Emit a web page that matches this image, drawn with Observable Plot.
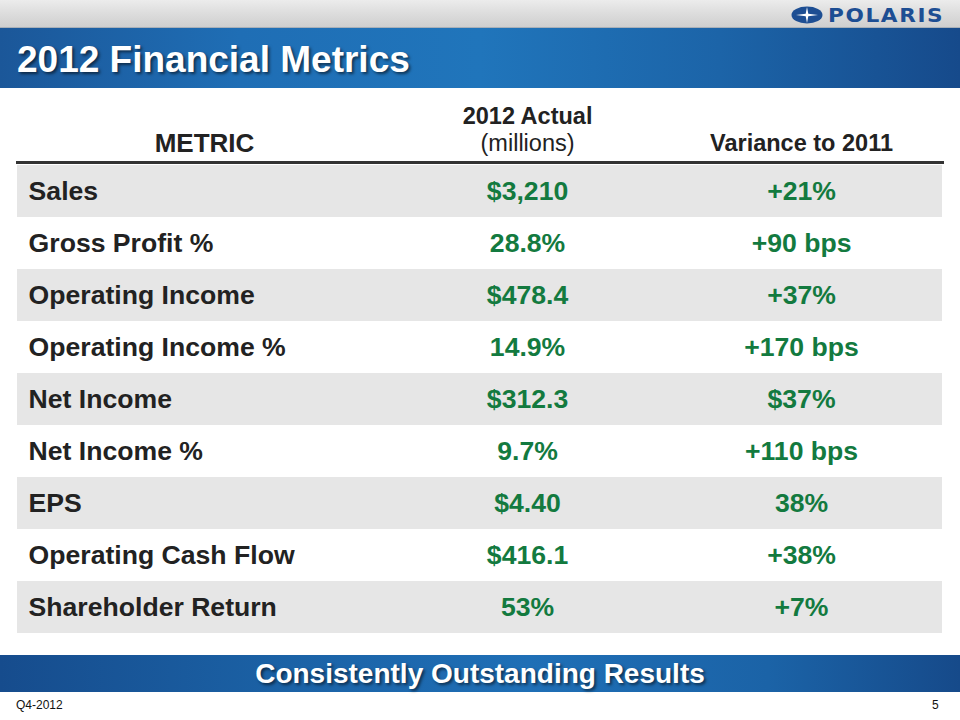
<!DOCTYPE html>
<html>
<head>
<meta charset="utf-8">
<script src="https://cdn.jsdelivr.net/npm/d3@7"></script>
<script src="https://cdn.jsdelivr.net/npm/@observablehq/plot@0.6"></script>
<style>
  html, body { margin: 0; padding: 0; background: #fff; }
  #slide { position: relative; width: 960px; height: 720px; overflow: hidden; background: #fff;
           font-family: "Liberation Sans", Arial, sans-serif; }
  #silver { position: absolute; left: 0; top: 0; width: 960px; height: 28px;
            background: linear-gradient(to bottom, #ececec 0%, #dedede 45%, #cfcfcf 100%);
            border-bottom: 1px solid #a9b0b8; box-sizing: border-box; }
  #titlebar { position: absolute; left: 0; top: 28px; width: 960px; height: 60px;
              background: linear-gradient(to right, #1b5799 0%, #1f6eb5 25%, #2075bb 50%, #1c64a8 75%, #164a8b 100%); }
  #title { position: absolute; left: 17px; top: 40px; color: #fff; font-weight: bold; font-size: 37px;
           line-height: 40px; text-shadow: 2px 2px 3px rgba(0,0,0,0.55); white-space: nowrap; }
  #logo { position: absolute; left: 791px; top: 4px; height: 22px; display: flex; align-items: center; }
  #logotext { font-family: "DejaVu Sans", "Liberation Sans", sans-serif; font-weight: bold; font-size: 20px;
              color: #1d4e93; letter-spacing: 1.5px; margin-left: 5px; transform: scaleX(1.08); transform-origin: left center; }
  #chart { position: absolute; left: 0; top: 88px; }
  #bottombar { position: absolute; left: 0; top: 655px; width: 960px; height: 37px;
               background: linear-gradient(to right, #164c8d 0%, #1b62a6 30%, #1f6fb6 55%, #1b63a7 80%, #164a8a 100%); }
  #tagline { position: absolute; left: 0; width: 960px; top: 655px; height: 37px; line-height: 37px; text-align: center;
             color: #fff; font-weight: bold; font-size: 28px; text-shadow: 2px 2px 3px rgba(0,0,0,0.55); }
  #foot-left { position: absolute; left: 16px; top: 698px; font-size: 12px; color: #111; }
  #foot-right { position: absolute; left: 932px; top: 698px; font-size: 12px; color: #111; }
</style>
</head>
<body>
<div id="slide">
  <div id="silver"></div>
  <div id="logo">
    <svg width="32" height="18" viewBox="0 0 32 18">
      <ellipse cx="16" cy="9" rx="15.5" ry="8.5" fill="#1d4e93"/>
      <polygon points="16,1 17.3,7.7 27,9 17.3,10.3 16,17 14.7,10.3 5,9 14.7,7.7" fill="#fff"/>
    </svg>
    <span id="logotext">POLARIS</span>
  </div>
  <div id="titlebar"></div>
  <div id="title">2012 Financial Metrics</div>
  <div id="chart"></div>
  <div id="bottombar"></div>
  <div id="tagline">Consistently Outstanding Results</div>
  <div id="foot-left">Q4-2012</div>
  <div id="foot-right">5</div>
</div>
<script>
// ---- Data ----
const metrics = ["Sales", "Gross Profit %", "Operating Income", "Operating Income %", "Net Income",
                 "Net Income %", "EPS", "Operating Cash Flow", "Shareholder Return"];
const actual2012 = ["$3,210", "28.8%", "$478.4", "14.9%", "$312.3", "9.7%", "$4.40", "$416.1", "53%"];
const variance2011 = ["+21%", "+90 bps", "+37%", "+170 bps", "$37%", "+110 bps", "38%", "+38%", "+7%"];
const headerMetric = ["METRIC"];
const headerActual = ["2012 Actual"];
const headerActualUnit = ["(millions)"];
const headerVariance = ["Variance to 2011"];

const rows = metrics.map((m, i) => ({metric: m, actual: actual2012[i], variance: variance2011[i], shaded: i % 2 === 0}));

const font = "Liberation Sans, Arial, sans-serif";
const green = "#137a3f";
const dark = "#222";
const bodySize = 26.6;
const headSize = 23.5;

const chart = Plot.plot({
  width: 960,
  height: 562,
  marginTop: 74,
  marginBottom: 15,
  marginLeft: 17,
  marginRight: 18,
  x: {domain: [0, 1], axis: null},
  y: {domain: metrics, axis: null, padding: 0},
  style: {fontFamily: font, background: "transparent", overflow: "visible"},
  marks: [
    Plot.barX(rows.filter(d => d.shaded), {x1: 0, x2: 1, y: "metric", fill: "#e6e6e6", insetTop: 0, insetBottom: 0}),
    Plot.frame({anchor: "top", stroke: "#333", strokeWidth: 3}),
    Plot.text(rows, {x: 0.012, y: "metric", text: "metric", textAnchor: "start", fill: dark,
                     fontSize: bodySize, fontWeight: "bold", fontFamily: font}),
    Plot.text(rows, {x: 0.5514, y: "metric", text: "actual", fill: green,
                     fontSize: bodySize, fontWeight: "bold", fontFamily: font}),
    Plot.text(rows, {x: 0.8476, y: "metric", text: "variance", fill: green,
                     fontSize: bodySize, fontWeight: "bold", fontFamily: font}),
    Plot.text(headerMetric, {x: 0.2022, text: d => d, frameAnchor: "top", lineAnchor: "middle", dy: -19, fill: dark,
                     fontSize: 26, fontWeight: "bold", fontFamily: font}),
    Plot.text(headerActual, {x: 0.5514, text: d => d, frameAnchor: "top", lineAnchor: "middle", dy: -46, fill: dark,
                     fontSize: headSize, fontWeight: "bold", fontFamily: font}),
    Plot.text(headerActualUnit, {x: 0.5514, text: d => d, frameAnchor: "top", lineAnchor: "middle", dy: -19, fill: dark,
                     fontSize: headSize, fontFamily: font}),
    Plot.text(headerVariance, {x: 0.8476, text: d => d, frameAnchor: "top", lineAnchor: "middle", dy: -19, fill: dark,
                     fontSize: headSize, fontWeight: "bold", fontFamily: font})
  ]
});
document.getElementById("chart").appendChild(chart);
</script>
</body>
</html>
